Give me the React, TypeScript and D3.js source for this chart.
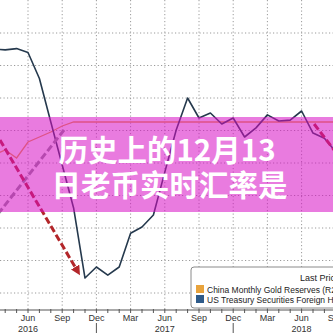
import React from 'react';
import * as d3 from 'd3';

const W = 333;
const H = 333;

// Monthly observations, Mar 2016 .. Sep 2018
const monthNames = [
  'Mar', 'Apr', 'May', 'Jun', 'Jul', 'Aug', 'Sep', 'Oct', 'Nov', 'Dec',
  'Jan', 'Feb', 'Mar', 'Apr', 'May', 'Jun', 'Jul', 'Aug', 'Sep', 'Oct', 'Nov', 'Dec',
  'Jan', 'Feb', 'Mar', 'Apr', 'May', 'Jun', 'Jul', 'Aug', 'Sep',
];
const monthYears = [
  2016, 2016, 2016, 2016, 2016, 2016, 2016, 2016, 2016, 2016,
  2017, 2017, 2017, 2017, 2017, 2017, 2017, 2017, 2017, 2017, 2017, 2017,
  2018, 2018, 2018, 2018, 2018, 2018, 2018, 2018, 2018,
];

// US Treasury Securities Foreign Holdings (China), USD bn
const treasury = [
  1212.7, 1212, 1213, 1210, 1190, 1156.5, 1123.5, 1090.4, 1036.5, 1045,
  1038.8, 1045, 1071, 1075.8, 1085, 1118, 1150.4, 1175, 1159.6, 1163.5, 1155, 1159.6,
  1145, 1152, 1162, 1157.3, 1158, 1165, 1148, 1144, 1133.5,
];

// China Monthly Gold Reserves, million oz
const gold = [
  58.58, 58.68, 58.52, 58.84, 58.94, 59.04, 59.16, 59.24, 59.24, 59.24,
  59.24, 59.24, 59.24, 59.24, 59.24, 59.24, 59.24, 59.24, 59.24, 59.24, 59.24, 59.24,
  59.24, 59.24, 59.24, 59.24, 59.24, 59.24, 59.24, 59.24, 59.24,
];

const gridValues = [1025, 1050, 1075, 1100, 1125, 1150, 1175, 1200, 1225];

// Annotation arrows in data coordinates [monthIndex, value]
const redArrow: [number, number][] = [[0.54, 1142.7], [7.39, 1041.2]];
const greyArrow: [number, number][] = [[0.37, 1085.8], [6.16, 1150.4]];
const rightArrow: [number, number][] = [[28.1, 1155], [30.8, 1124.2]];

const titleLines = ['历史上的12月13', '日老币实时汇率是'];
const legendTitle = 'Last Price';
const legendItems = ['China Monthly Gold Reserves (R2)', 'US Treasury Securities Foreign Holdings'];
const legendColors = ['#e8a33c', '#2e5b8a'];

export default function App() {
  const idx = d3.range(treasury.length);
  const x = d3.scaleLinear().domain([0, 30]).range([-6.2, 335.8]);
  const yL = d3.scaleLinear().domain([1025, 1225]).range([293, 33]);
  const yR = d3.scaleLinear().domain([57.5, 60.5]).range([209, 59]);

  const lineT = d3.line<number>().x((i) => x(i)).y((i) => yL(treasury[i]));
  const lineG = d3.line<number>().x((i) => x(i)).y((i) => yR(gold[i]));
  const annot = d3.line<[number, number]>().x((d) => x(d[0])).y((d) => yL(d[1]));

  const quarterIdx = idx.filter((i) => i % 3 === 0);
  const labelIdx = quarterIdx.filter((i) => x(i) > 0);
  const axisY = 310;
  const font = "'Liberation Sans', Arial, sans-serif";

  return (
    <svg
      width={W}
      height={H}
      style={{ position: 'fixed', left: 0, top: 0, background: '#fff' }}
    >
      <defs>
        <marker id="ah" viewBox="0 0 10 10" refX="6" refY="5" markerWidth="3.2" markerHeight="3.2" orient="auto">
          <path d="M0,0 L10,5 L0,10 z" fill="#b3262a" />
        </marker>
      </defs>
      <rect x={0} y={0} width={W} height={H} fill="#fff" />
      {/* grid */}
      {gridValues.map((v) => (
        <line key={'h' + v} x1={0} x2={W} y1={yL(v)} y2={yL(v)} stroke="#9a9a9a" strokeWidth={1} strokeDasharray="1.2,2.3" />
      ))}
      {quarterIdx.map((i) => (
        <line key={'v' + i} x1={x(i)} x2={x(i)} y1={0} y2={axisY} stroke="#9a9a9a" strokeWidth={1} strokeDasharray="1.2,2.3" />
      ))}
      {/* series */}
      <path d={lineG(idx) || ''} fill="none" stroke={legendColors[0]} strokeWidth={1.3} />
      <path d={lineT(idx) || ''} fill="none" stroke="#25394d" strokeWidth={1.6} strokeLinejoin="round" />
      {/* annotation dashed arrows */}
      <path d={annot(greyArrow) || ''} fill="none" stroke="#8f8f96" strokeWidth={3} strokeDasharray="7,3" />
      <path d={annot(redArrow) || ''} fill="none" stroke="#b3262a" strokeWidth={3} strokeDasharray="7,3" markerEnd="url(#ah)" />
      <path d={annot(rightArrow) || ''} fill="none" stroke="#b3262a" strokeWidth={3} strokeDasharray="7,3" />
      {/* pink band */}
      <rect x={0} y={117} width={W} height={95} fill="rgb(215,15,197)" opacity={0.55} />
      <text x={167} y={161} textAnchor="middle" fontSize={29.5} fontWeight={700} fill="#fff"
        fontFamily="'Noto Sans CJK SC', sans-serif">{titleLines[0]}</text>
      <text x={169.5} y={196} textAnchor="middle" fontSize={29.5} fontWeight={700} fill="#fff"
        fontFamily="'Noto Sans CJK SC', sans-serif">{titleLines[1]}</text>
      {/* axis */}
      <line x1={0} x2={W} y1={axisY} y2={axisY} stroke="#555" strokeWidth={1.2} />
      {idx.map((i) => (
        <line key={'t' + i} x1={x(i)} x2={x(i)} y1={axisY - 1} y2={axisY + 3} stroke="#555" strokeWidth={1} />
      ))}
      {labelIdx.map((i) => (
        <text key={'m' + i} x={x(i)} y={321} textAnchor="middle" fontSize={9} fill="#333" fontFamily={font}>
          {monthNames[i]}
        </text>
      ))}
      {labelIdx.filter((i) => monthNames[i] === 'Jun').map((i) => (
        <text key={'y' + i} x={x(i)} y={331.5} textAnchor="middle" fontSize={9} fill="#333" fontFamily={font}>
          {monthYears[i]}
        </text>
      ))}
      {labelIdx.filter((i) => monthNames[i] === 'Dec').map((i) => (
        <line key={'s' + i} x1={x(i)} x2={x(i)} y1={323} y2={H} stroke="#555" strokeWidth={1} />
      ))}
      {/* legend */}
      <rect x={191} y={267} width={170} height={41} rx={3} fill="#fff" stroke="#8a8a8a" strokeWidth={1} />
      <text x={300} y={281} fontSize={9} fill="#222" fontFamily={font}>{legendTitle}</text>
      {legendItems.map((t, k) => (
        <g key={t}>
          <rect x={196} y={285 + k * 10} width={8} height={8} fill={legendColors[k]} />
          <text x={207} y={292.5 + k * 10} fontSize={8.5} fill="#222" fontFamily={font}>{t}</text>
        </g>
      ))}
    </svg>
  );
}
